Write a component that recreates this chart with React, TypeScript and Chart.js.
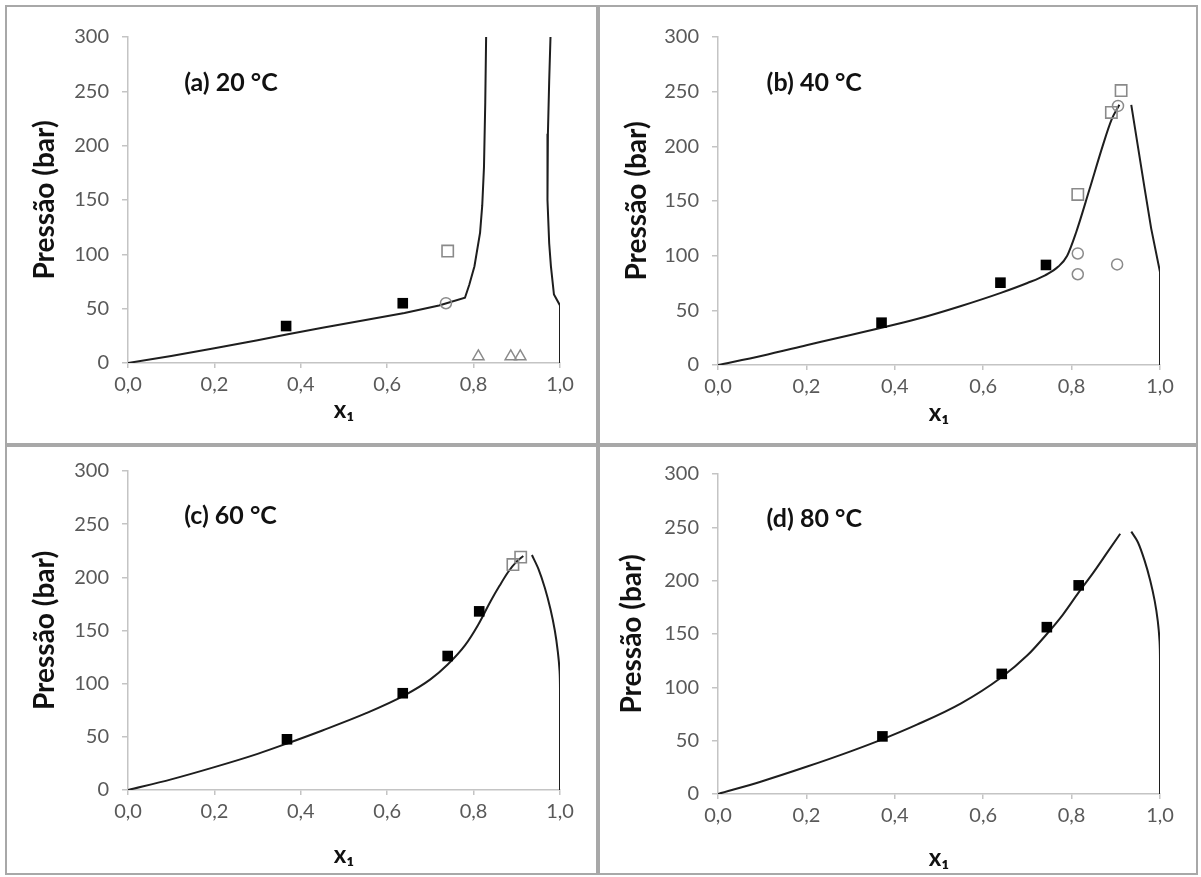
import React, { useEffect, useRef } from 'react';
import { Chart, registerables } from 'chart.js';

Chart.register(...registerables);

type Pt = [number, number];

// ---------- shared axis data ----------
const xTickValues = [0, 0.2, 0.4, 0.6, 0.8, 1.0];
const xTickLabels = ['0,0', '0,2', '0,4', '0,6', '0,8', '1,0'];
const yTickValues = [0, 50, 100, 150, 200, 250, 300];
const yTickLabels = ['0', '50', '100', '150', '200', '250', '300'];
const yAxisTitle = 'Pressão (bar)';
const xAxisTitle = 'x₁';
const panelTitles = ['(a) 20 °C', '(b) 40 °C', '(c) 60 °C', '(d) 80 °C'];

// ---------- panel (a) 20 °C ----------
const aCurveLeft: Pt[] = [[0, 0], [0.1, 6.5], [0.2, 13.5], [0.3, 21], [0.37, 26.5], [0.45, 32.5], [0.55, 39.5], [0.64, 46], [0.72, 53], [0.78, 60], [0.79, 72], [0.802, 89], [0.815, 120], [0.82, 145], [0.824, 180], [0.827, 240], [0.829, 300]];
const aCurveRight: Pt[] = [[0.978, 300], [0.975, 260], [0.972, 211], [0.971, 150], [0.975, 110], [0.979, 89], [0.986, 63], [1.0, 53], [1.0, 0]];
const aFilledSquares: Pt[] = [[0.366, 34], [0.636, 55]];
const aOpenSquares: Pt[] = [[0.74, 103]];
const aOpenCircles: Pt[] = [[0.736, 55]];
const aOpenTriangles: Pt[] = [[0.811, 6], [0.886, 6], [0.908, 6]];

// ---------- panel (b) 40 °C ----------
const bCurveLeft: Pt[] = [[0, 0], [0.1, 8.5], [0.2, 18], [0.3, 27.5], [0.37, 34], [0.45, 42], [0.55, 54], [0.64, 66], [0.7, 75], [0.74, 82], [0.77, 90], [0.79, 100], [0.81, 121], [0.84, 160], [0.87, 200], [0.89, 224], [0.908, 238]];
const bCurveRight: Pt[] = [[0.935, 238], [0.95, 200], [0.965, 162], [0.98, 125], [1.0, 85], [1.0, 0]];
const bFilledSquares: Pt[] = [[0.37, 38.7], [0.639, 75.3], [0.742, 91.5]];
const bOpenSquares: Pt[] = [[0.814, 156], [0.89, 231], [0.912, 251]];
const bOpenCircles: Pt[] = [[0.814, 102], [0.814, 83], [0.903, 92], [0.905, 237]];

// ---------- panel (c) 60 °C ----------
const cCurveLeft: Pt[] = [[0, 0], [0.1, 10], [0.2, 21.5], [0.3, 34], [0.37, 44], [0.45, 56], [0.55, 72], [0.64, 89], [0.7, 104], [0.74, 118], [0.78, 136], [0.81, 155], [0.84, 178], [0.86, 192], [0.88, 205], [0.9, 215], [0.915, 220]];
const cCurveRight: Pt[] = [[0.935, 221], [0.95, 208], [0.965, 190], [0.978, 170], [0.988, 150], [0.995, 130], [0.999, 112], [1.0, 95], [1.0, 0]];
const cFilledSquares: Pt[] = [[0.368, 47.7], [0.636, 91], [0.74, 126], [0.813, 168]];
const cOpenSquares: Pt[] = [[0.891, 212], [0.909, 219]];
const cOpenCircles: Pt[] = [];

// ---------- panel (d) 80 °C ----------
const dCurveLeft: Pt[] = [[0, 0], [0.1, 12], [0.2, 25.5], [0.3, 40], [0.37, 51], [0.45, 65], [0.55, 85], [0.64, 109], [0.7, 130], [0.744, 150], [0.78, 168], [0.816, 189], [0.85, 208], [0.88, 226], [0.91, 244]];
const dCurveRight: Pt[] = [[0.935, 246], [0.95, 236], [0.965, 219], [0.978, 200], [0.988, 181], [0.995, 162], [0.999, 143], [1.0, 125], [1.0, 0]];
const dFilledSquares: Pt[] = [[0.372, 54], [0.642, 112.6], [0.744, 156.4], [0.816, 195.6]];

// ---------- layout (page pixels) ----------
type Box = { l: number; t: number; w: number; h: number };
type Area = { l: number; r: number; t: number; b: number };
type Curve = { pts: Pt[]; mode: 'monotone' | 'default'; tension: number };

interface PanelCfg {
  title: string;
  box: Box;
  area: Area;
  yTitleX: number;
  xTitleY: number;
  labelX: number;
  curves: Curve[];
  filled: Pt[];
  openSq: Pt[];
  openCirc: Pt[];
  openTri: Pt[];
}

const panels: PanelCfg[] = [
  {
    title: panelTitles[0], box: { l: 5, t: 5, w: 593, h: 440 }, area: { l: 128, r: 560, t: 37, b: 363 },
    yTitleX: 45, xTitleY: 410, labelX: 0.13,
    curves: [{ pts: aCurveLeft, mode: 'default', tension: 0 }, { pts: aCurveRight, mode: 'default', tension: 0 }],
    filled: aFilledSquares, openSq: aOpenSquares, openCirc: aOpenCircles, openTri: aOpenTriangles,
  },
  {
    title: panelTitles[1], box: { l: 598, t: 5, w: 600, h: 440 }, area: { l: 718, r: 1160, t: 37, b: 365 },
    yTitleX: 637, xTitleY: 413, labelX: 0.11,
    curves: [{ pts: bCurveLeft, mode: 'monotone', tension: 0 }, { pts: bCurveRight, mode: 'default', tension: 0 }],
    filled: bFilledSquares, openSq: bOpenSquares, openCirc: bOpenCircles, openTri: [],
  },
  {
    title: panelTitles[2], box: { l: 5, t: 445, w: 593, h: 430 }, area: { l: 128, r: 560, t: 471, b: 790 },
    yTitleX: 45, xTitleY: 855, labelX: 0.13,
    curves: [{ pts: cCurveLeft, mode: 'monotone', tension: 0 }, { pts: cCurveRight, mode: 'default', tension: 0.3 }],
    filled: cFilledSquares, openSq: cOpenSquares, openCirc: cOpenCircles, openTri: [],
  },
  {
    title: panelTitles[3], box: { l: 598, t: 445, w: 600, h: 430 }, area: { l: 718, r: 1160, t: 474, b: 794 },
    yTitleX: 632, xTitleY: 858, labelX: 0.11,
    curves: [{ pts: dCurveLeft, mode: 'monotone', tension: 0 }, { pts: dCurveRight, mode: 'default', tension: 0.3 }],
    filled: dFilledSquares, openSq: [], openCirc: [], openTri: [],
  },
];

const FONT = 'Lato, "Open Sans", "DejaVu Sans", sans-serif';
const AXIS_GREY = '#c4c4c4';
const TICK_TEXT = '#595959';
const MARKER_GREY = '#8a8a8a';

const toXY = (p: Pt[]) => p.map(([x, y]) => ({ x, y }));

const panelLabelPlugin = {
  id: 'panelLabel',
  afterDatasetsDraw(chart: any, _args: any, opts: any) {
    const { ctx, scales } = chart;
    ctx.save();
    ctx.font = `bold 25px ${FONT}`;
    ctx.fillStyle = '#111';
    ctx.textAlign = 'left';
    ctx.textBaseline = 'middle';
    ctx.fillText(opts.text, scales.x.getPixelForValue(opts.x), scales.y.getPixelForValue(opts.y));
    ctx.restore();
  },
};

function Panel({ cfg }: { cfg: PanelCfg }) {
  const ref = useRef<HTMLCanvasElement>(null);
  useEffect(() => {
    if (!ref.current) return;
    const { box, area } = cfg;
    const yAxisWidth = area.l - box.l;
    const padRight = box.l + box.w - area.r;
    const padTop = area.t - box.t;
    const xAxisHeight = box.t + box.h - area.b;
    const yTitleFont = 28;
    const xTitleFont = 24;
    const yTitlePad = cfg.yTitleX - box.l - (yTitleFont * 1.2) / 2;
    const xTitlePad = box.t + box.h - cfg.xTitleY - (xTitleFont * 1.2) / 2;

    const datasets: any[] = [];
    datasets.push({
      data: toXY(cfg.filled), pointStyle: 'rect', pointRadius: 7.5, backgroundColor: '#000', borderColor: '#000', borderWidth: 0, showLine: false,
    });
    datasets.push({
      data: toXY(cfg.openSq), pointStyle: 'rect', pointRadius: 8, backgroundColor: 'rgba(255,255,255,0)', borderColor: MARKER_GREY, borderWidth: 1.6, showLine: false,
    });
    datasets.push({
      data: toXY(cfg.openCirc), pointStyle: 'circle', pointRadius: 5.5, backgroundColor: 'rgba(255,255,255,0)', borderColor: MARKER_GREY, borderWidth: 1.5, showLine: false,
    });
    datasets.push({
      data: toXY(cfg.openTri), pointStyle: 'triangle', pointRadius: 6.5, backgroundColor: 'rgba(255,255,255,0)', borderColor: MARKER_GREY, borderWidth: 1.5, showLine: false,
    });
    cfg.curves.forEach((c) => {
      datasets.push({
        data: toXY(c.pts), showLine: true, pointRadius: 0, borderColor: '#1e1e1e', borderWidth: 2,
        cubicInterpolationMode: c.mode, tension: c.tension, fill: false,
      });
    });

    const chart = new Chart(ref.current, {
      type: 'scatter',
      data: { datasets },
      options: {
        animation: false,
        responsive: false,
        maintainAspectRatio: false,
        events: [],
        layout: { padding: { left: 0, top: padTop, right: padRight, bottom: 0 } },
        plugins: {
          legend: { display: false },
          tooltip: { enabled: false },
          panelLabel: { text: cfg.title, x: cfg.labelX, y: 258 },
        } as any,
        scales: {
          x: {
            type: 'linear', min: 0, max: 1,
            afterBuildTicks: (s: any) => { s.ticks = xTickValues.map((v) => ({ value: v })); },
            afterFit: (s: any) => { s.height = xAxisHeight; },
            ticks: {
              autoSkip: false, maxRotation: 0, minRotation: 0, padding: 5,
              color: TICK_TEXT, font: { family: FONT, size: 20 },
              callback: (_v: any, i: number) => xTickLabels[i],
            },
            grid: { drawOnChartArea: false, drawTicks: true, tickLength: 5, color: AXIS_GREY, lineWidth: 1.5 },
            border: { display: true, color: AXIS_GREY, width: 1.5 },
            title: {
              display: true, text: xAxisTitle, color: '#111',
              font: { family: FONT, size: xTitleFont, weight: 'bold' },
              padding: { top: 0, bottom: xTitlePad },
            },
          },
          y: {
            type: 'linear', min: 0, max: 300,
            afterBuildTicks: (s: any) => { s.ticks = yTickValues.map((v) => ({ value: v })); },
            afterFit: (s: any) => { s.width = yAxisWidth; },
            ticks: {
              autoSkip: false, padding: 13,
              color: TICK_TEXT, font: { family: FONT, size: 20 },
              callback: (_v: any, i: number) => yTickLabels[i],
            },
            grid: { drawOnChartArea: false, drawTicks: true, tickLength: 6, color: AXIS_GREY, lineWidth: 1.5 },
            border: { display: true, color: AXIS_GREY, width: 1.5 },
            title: {
              display: true, text: yAxisTitle, color: '#111',
              font: { family: FONT, size: yTitleFont, weight: 'bold' },
              padding: { top: yTitlePad, bottom: 0 },
            },
          },
        },
      },
      plugins: [panelLabelPlugin as any],
    });
    return () => chart.destroy();
  }, [cfg]);

  const { box } = cfg;
  return (
    <>
      <canvas
        ref={ref}
        width={box.w}
        height={box.h}
        style={{ position: 'absolute', left: box.l, top: box.t, width: box.w, height: box.h }}
      />
      <div
        style={{
          position: 'absolute', left: box.l, top: box.t, width: box.w, height: box.h,
          border: '2px solid #a8a8a8', boxSizing: 'border-box', pointerEvents: 'none',
        }}
      />
    </>
  );
}

export default function App() {
  return (
    <div style={{ position: 'fixed', left: 0, top: 0, width: 1201, height: 877, background: '#fff', overflow: 'hidden' }}>
      {panels.map((p, i) => (
        <Panel key={i} cfg={p} />
      ))}
    </div>
  );
}
